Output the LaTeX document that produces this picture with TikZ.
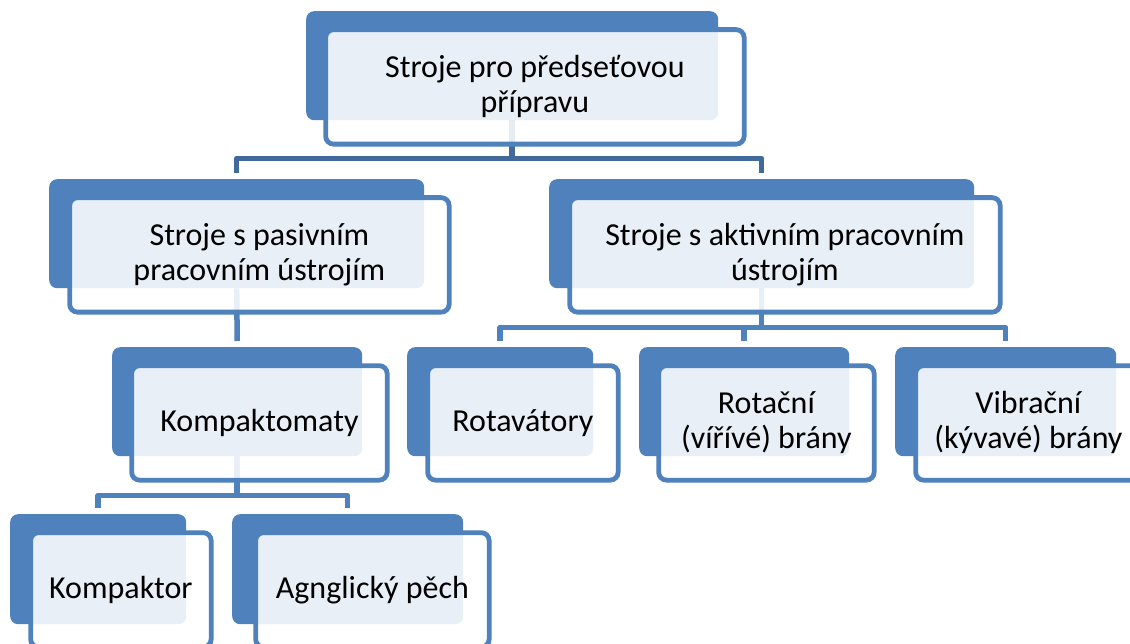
\documentclass[tikz,border=0pt]{standalone}
\usepackage{fontspec}
\setmainfont{Carlito}
\usetikzlibrary{calc}
\definecolor{accent}{HTML}{4F81BD}
\definecolor{linkdark}{HTML}{41699C}
\begin{document}
\begin{tikzpicture}[x=1pt,y=-1pt,
  backbox/.style={rectangle, rounded corners=8pt, fill=accent, draw=none, inner sep=0pt, anchor=north west},
  frontbox/.style={rectangle, rounded corners=8pt, draw=accent, line width=4.8pt, fill=white, fill opacity=0.875, text opacity=1, inner sep=0pt, anchor=north west, align=center, font=\fontsize{32}{35}\selectfont},
  link/.style={draw=accent, line width=5.5pt, line join=round},
  toplink/.style={draw=linkdark, line width=5.5pt, line join=round}]
\useasboundingbox (0,0) rectangle (1130,644);
\clip (0,0) rectangle (1130,644);
\fill[white] (0,0) rectangle (1130,644);
% back boxes
\node[backbox, minimum width=412pt, minimum height=109pt] (b1) at (306,11) {};
\node[backbox, minimum width=375pt, minimum height=109pt] (b2) at (49,179) {};
\node[backbox, minimum width=425pt, minimum height=109pt] (b3) at (549,179) {};
\node[backbox, minimum width=250pt, minimum height=109pt] (b4) at (112,347) {};
\node[backbox, minimum width=186pt, minimum height=109pt] (b5) at (407,347) {};
\node[backbox, minimum width=210pt, minimum height=109pt] (b6) at (639,347) {};
\node[backbox, minimum width=221pt, minimum height=109pt] (b7) at (895,347) {};
\node[backbox, minimum width=176pt, minimum height=110pt] (b8) at (10,514) {};
\node[backbox, minimum width=231pt, minimum height=110pt] (b9) at (232,514) {};
% connectors
\draw[toplink] (b1.south) -- ++(0,38) coordinate (j1);
\draw[toplink] ([yshift=6pt]b2.north) |- (j1) -| ([yshift=6pt]b3.north);
\draw[link] (b2.south) -- ([yshift=6pt]b4.north);
\draw[link] (b3.south) -- ++(0,39) coordinate (j3);
\draw[link] ([yshift=6pt]b5.north) |- (j3) -| ([yshift=6pt]b7.north);
\draw[link] (j3 -| b6.north) -- ([yshift=6pt]b6.north);
\draw[link] (b4.south) -- ++(0,39) coordinate (j4);
\draw[link] ([yshift=6pt]b8.north) |- (j4) -| ([yshift=6pt]b9.north);
% front boxes
\node[frontbox, minimum width=418.5pt, minimum height=114.5pt] (n1) at (323.25,27.25) {Stroje pro předseťovou\\přípravu};
\node[frontbox, minimum width=379.5pt, minimum height=114.5pt] (n2) at (67.25,195.25) {Stroje s pasivním\\pracovním ústrojím};
\node[frontbox, minimum width=430.5pt, minimum height=114.5pt] (n3) at (567.25,195.25) {Stroje s aktivním pracovním\\ústrojím};
\node[frontbox, minimum width=255.5pt, minimum height=114.5pt] (n4) at (129.25,363.25) {Kompaktomaty};
\node[frontbox, minimum width=190.5pt, minimum height=114.5pt] (n5) at (425.25,363.25) {Rotavátory};
\node[frontbox, minimum width=215.5pt, minimum height=114.5pt] (n6) at (656.25,363.25) {Rotační\\(vířívé) brány};
\node[frontbox, minimum width=225.5pt, minimum height=114.5pt] (n7) at (913.25,363.25) {Vibrační\\(kývavé) brány};
\node[frontbox, minimum width=180.5pt, minimum height=114.5pt] (n8) at (28.25,530.25) {Kompaktor};
\node[frontbox, minimum width=233.5pt, minimum height=114.5pt] (n9) at (253.25,530.25) {Agnglický pěch};
\end{tikzpicture}
\end{document}
